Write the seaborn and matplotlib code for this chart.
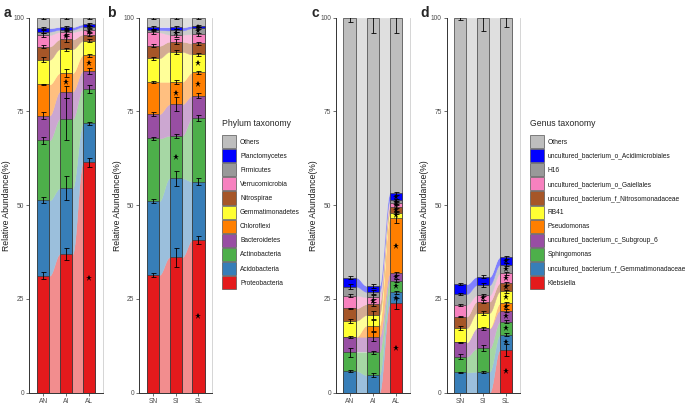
import numpy as np
import pandas as pd
import matplotlib
matplotlib.use("Agg")
import matplotlib.pyplot as plt
from matplotlib.patches import Patch
from matplotlib.colors import to_rgb
import seaborn as sns

# taxa, bottom of the stack first
phylum = ['Proteobacteria', 'Acidobacteria', 'Actinobacteria', 'Bacteroidetes', 'Chloroflexi',
          'Gemmatimonadetes', 'Nitrospirae', 'Verrucomicrobia', 'Firmicutes', 'Planctomycetes', 'Others']
genus = ['Klebsiella', 'uncultured_bacterium_f_Gemmatimonadaceae', 'Sphingomonas',
         'uncultured_bacterium_c_Subgroup_6', 'Pseudomonas', 'RB41',
         'uncultured_bacterium_f_Nitrosomonadaceae', 'uncultured_bacterium_o_Gaiellales', 'H16',
         'uncultured_bacterium_o_Acidimicrobiales', 'Others']
palette = ['#E41A1C', '#377EB8', '#4DAF4A', '#984EA3', '#FF7F00', '#FFFF33',
           '#A65628', '#F781BF', '#999999', '#0000FF', '#BEBEBE']

groups_A = ['AN', 'AI', 'AL']
groups_S = ['SN', 'SI', 'SL']

# relative abundance (%) per group, same order as the taxa lists
phy_A = [[31.2, 20.1, 16.0, 6.6, 8.3, 6.6, 3.5, 3.1, 0.9, 0.9, 2.8],
         [37.0, 17.5, 18.5, 7.3, 4.9, 6.4, 2.6, 2.0, 0.6, 0.7, 2.5],
         [61.4, 10.4, 9.2, 4.8, 4.2, 3.8, 1.7, 1.2, 0.9, 0.6, 1.8]]
phy_A_err = [[1.0, 0.8, 0.9, 0.9, 0.2, 0.6, 0.4, 0.6, 0.3, 0.3, 0.3],
             [1.7, 3.2, 5.5, 1.6, 1.0, 0.4, 0.8, 0.6, 0.3, 0.3, 0.4],
             [1.3, 0.5, 1.0, 0.7, 0.4, 0.4, 0.5, 0.4, 0.3, 0.3, 0.3]]
phy_A_sig = {1: [4, 7], 2: [0, 4, 7, 9]}

phy_S = [[31.4, 19.7, 16.7, 6.5, 8.6, 6.3, 3.3, 3.6, 0.6, 0.7, 2.6],
         [36.1, 21.1, 11.3, 8.4, 6.0, 8.0, 2.7, 1.9, 1.1, 0.8, 2.6],
         [40.7, 15.6, 16.9, 6.0, 6.2, 4.8, 3.0, 2.4, 1.6, 0.6, 2.2]]
phy_S_err = [[0.6, 0.6, 0.3, 0.6, 0.2, 0.4, 0.4, 0.5, 0.3, 0.3, 0.3],
             [2.5, 2.0, 0.6, 1.9, 0.5, 0.5, 0.6, 0.6, 0.3, 0.3, 0.3],
             [1.0, 0.9, 0.8, 0.6, 0.3, 0.4, 0.4, 0.4, 0.3, 0.3, 0.4]]
phy_S_sig = {1: [2, 4, 8], 2: [0, 4, 5, 8, 9]}

gen_A = [[0.0, 5.8, 5.0, 4.1, 0.0, 4.3, 3.3, 3.4, 2.4, 2.4, 69.3],
         [0.0, 4.7, 6.1, 4.1, 3.0, 2.8, 2.9, 1.9, 1.4, 1.6, 71.5],
         [23.8, 3.0, 3.1, 1.9, 14.9, 1.3, 1.6, 0.9, 0.9, 1.8, 46.8]]
gen_A_err = [[0, 0.2, 1.2, 0.2, 0, 0.5, 0.2, 0.3, 0.6, 0.3, 1.2],
             [0, 0.6, 0.4, 1.2, 1.5, 1.0, 0.5, 0.5, 0.5, 0.5, 4.0],
             [1.5, 0.4, 0.5, 0.4, 1.5, 0.4, 0.4, 0.3, 0.3, 0.4, 4.0]]
gen_A_sig = {1: [7], 2: [0, 1, 2, 3, 4, 5, 6, 7, 8, 9]}

gen_S = [[0.0, 5.4, 4.2, 3.8, 0.0, 3.8, 3.1, 3.1, 2.9, 2.6, 71.1],
         [0.0, 5.6, 6.2, 5.4, 0.0, 4.1, 3.0, 1.7, 2.7, 2.2, 69.1],
         [11.4, 4.0, 3.5, 3.0, 1.9, 3.2, 2.2, 2.6, 2.3, 2.0, 63.9]]
gen_S_err = [[0, 0.2, 0.6, 0.2, 0, 0.5, 0.2, 0.3, 0.3, 0.3, 0.5],
             [0, 0.3, 0.8, 0.4, 0, 0.6, 0.4, 0.3, 0.5, 0.4, 3.5],
             [1.6, 0.4, 0.4, 0.3, 0.3, 0.5, 0.4, 0.3, 0.4, 0.4, 2.5]]
gen_S_sig = {1: [7], 2: [0, 1, 2, 3, 4, 5, 6, 7, 8, 9]}

sns.set_theme(style="white")
plt.rcParams['font.family'] = ['Liberation Sans', 'DejaVu Sans']

W = 0.54
EDGE = '#3c3c3c'


def lighten(c, f=0.5):
    r, g, b = to_rgb(c)
    return (r + (1 - r) * f, g + (1 - g) * f, b + (1 - b) * f)


def panel(ax, groups, values, errors, sig):
    vals = np.array(values)
    err = np.array(errors)
    cum = np.cumsum(vals, axis=1)
    low = cum - vals
    ntax = vals.shape[1]

    # flows between neighbouring bars
    t = np.linspace(0, 1, 60)
    s = (1 - np.cos(np.pi * t)) / 2
    for i in range(len(groups) - 1):
        xs = np.linspace(i + W / 2, i + 1 - W / 2, 60)
        for k in range(ntax):
            if vals[i, k] == 0 and vals[i + 1, k] == 0:
                continue
            lo = low[i, k] + (low[i + 1, k] - low[i, k]) * s
            hi = cum[i, k] + (cum[i + 1, k] - cum[i, k]) * s
            c = lighten(palette[k])
            ax.fill_between(xs, lo, hi, color=c, lw=0.3, edgecolor=c, zorder=0.5)

    # stacked bars: draw the cumulative tops from the highest down
    df = pd.DataFrame({'group': groups})
    for k in reversed(range(ntax)):
        df['top'] = cum[:, k]
        sns.barplot(data=df, x='group', y='top', order=groups, color=palette[k],
                    saturation=1, width=W, edgecolor=EDGE, linewidth=0.5,
                    errorbar=None, ax=ax, zorder=2)

    for i in range(len(groups)):
        for k in range(ntax):
            if vals[i, k] == 0:
                continue
            ax.errorbar(i, cum[i, k], yerr=err[i, k], fmt='none', ecolor='black',
                        elinewidth=0.6, capsize=1.8, capthick=0.6, zorder=3)
        for k in sig.get(i, []):
            ax.plot(i, (low[i, k] + cum[i, k]) / 2, marker='*', color='black',
                    ms=5, mew=0, zorder=4)

    ax.set_xlim(-0.6, len(groups) - 0.4)
    ax.set_ylim(0, 100)
    ax.set_yticks([0, 25, 50, 75, 100])
    ax.set_xlabel('')
    ax.set_ylabel('Relative Abundance(%)', fontsize=6.2, color='#1a1a1a', labelpad=1.5)
    ax.tick_params(axis='both', labelsize=4.8, labelcolor='#4d4d4d', length=2,
                   width=0.5, color='#333333', pad=1.5, left=True, bottom=True)
    for side in ['left', 'bottom']:
        ax.spines[side].set_color('#333333')
        ax.spines[side].set_linewidth(0.7)
    ax.spines['right'].set_color('#cfcfcf')
    ax.spines['right'].set_linewidth(0.6)
    ax.spines['top'].set_visible(False)


fig = plt.figure(figsize=(6.85, 4.11), dpi=100)
H = 375 / 411
B = 18.3 / 411
axa = fig.add_axes([29.3 / 685, B, 73.7 / 685, H])
axb = fig.add_axes([139.4 / 685, B, 72.6 / 685, H])
axc = fig.add_axes([335.8 / 685, B, 74.2 / 685, H])
axd = fig.add_axes([446.5 / 685, B, 73.3 / 685, H])

panel(axa, groups_A, phy_A, phy_A_err, phy_A_sig)
panel(axb, groups_S, phy_S, phy_S_err, phy_S_sig)
panel(axc, groups_A, gen_A, gen_A_err, gen_A_sig)
panel(axd, groups_S, gen_S, gen_S_err, gen_S_sig)

for lab, x in zip('abcd', [4, 107, 311, 420]):
    fig.text(x / 685, 1 - 13 / 411, lab, fontsize=10, fontweight='bold', va='center', ha='left')


def legend(names, title, x):
    handles = [Patch(facecolor=palette[k], edgecolor='#555555', lw=0.5) for k in reversed(range(len(names)))]
    labels = list(reversed(names))
    leg = fig.legend(handles, labels, title=title, loc='upper left',
                     bbox_to_anchor=(x / 685, 1 - 119 / 411), bbox_transform=fig.transFigure,
                     frameon=False, fontsize=4.8, title_fontsize=6.2, handlelength=2.1,
                     handleheight=2.65, labelspacing=0.15, handletextpad=0.6,
                     borderpad=0, borderaxespad=0, alignment='left')
    leg._legend_box.sep = 5
    for txt in leg.get_texts():
        txt.set_color('#1a1a1a')
    return leg


legend(phylum, 'Phylum taxonomy', 222)
legend(genus, 'Genus taxonomy', 530)

fig.savefig('out.png', dpi=100, facecolor='white')
